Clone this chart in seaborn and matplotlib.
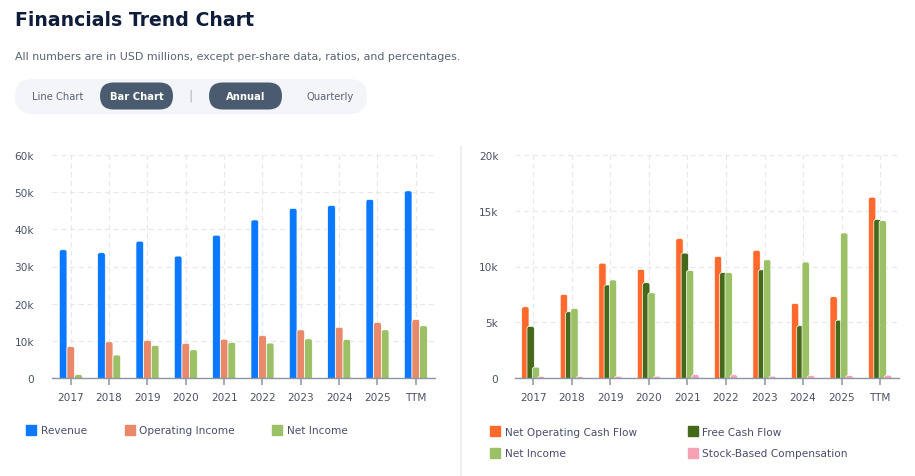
import numpy as np
import pandas as pd
import matplotlib
matplotlib.use("Agg")
import matplotlib.pyplot as plt
import seaborn as sns
from matplotlib.patches import FancyBboxPatch, Rectangle
from matplotlib.lines import Line2D
from matplotlib.ticker import FuncFormatter

# data (USD millions)
years = ["2017", "2018", "2019", "2020", "2021", "2022", "2023", "2024", "2025", "TTM"]
revenue = [34500, 33700, 36800, 32800, 38400, 42500, 45600, 46400, 48000, 50300]
operating_income = [8500, 9800, 10200, 9400, 10500, 11500, 13000, 13700, 15000, 15800]
net_income = [1000, 6250, 8800, 7650, 9650, 9450, 10600, 10400, 13000, 14100]
net_operating_cf = [6400, 7500, 10300, 9750, 12500, 10900, 11450, 6700, 7300, 16200]
free_cf = [4650, 5950, 8350, 8550, 11200, 9450, 9700, 4700, 5200, 14200]
sbc = [180, 180, 190, 190, 330, 320, 190, 250, 260, 280]

left_series = ["Revenue", "Operating Income", "Net Income"]
left_colors = ["#0a78ff", "#e8896a", "#9cc066"]
right_series = ["Net Operating Cash Flow", "Free Cash Flow", "Net Income", "Stock-Based Compensation"]
right_colors = ["#ff6a2c", "#44691a", "#9cc066", "#f7a1b4"]

left_df = pd.DataFrame({"year": years * 3,
                        "metric": np.repeat(left_series, len(years)),
                        "value": revenue + operating_income + net_income})
right_df = pd.DataFrame({"year": years * 4,
                         "metric": np.repeat(right_series, len(years)),
                         "value": net_operating_cf + free_cf + net_income + sbc})

sns.set_theme(style="white")
plt.rcParams["font.family"] = ["DejaVu Sans"]

W, H = 915, 477
fig = plt.figure(figsize=(W / 100, H / 100), dpi=100)
fig.patch.set_facecolor("white")

TICK_C = "#4a5266"
GRID_C = "#e6e8ec"


def px(x, y_top):
    # pixel position (from top-left) to figure fraction
    return x / W, 1 - y_top / H


def kfmt(v, _):
    return "0" if v == 0 else f"{int(v / 1000)}k"


def round_tops(ax, r_px=2.2, widen=1.0):
    fig.canvas.draw()
    p0 = ax.transData.transform((0, 0))
    p1 = ax.transData.transform((1, 1))
    xu = p1[0] - p0[0]
    yu = p1[1] - p0[1]
    aspect = xu / yu
    bars = [p for p in ax.patches if isinstance(p, Rectangle)]
    for p in bars:
        x, y, w, h = p.get_x(), p.get_y(), p.get_width(), p.get_height()
        if np.isnan(h):
            p.remove()
            continue
        cx = x + w / 2
        w2 = w * widen
        r = min(r_px / xu, w2 / 2)
        ext = 2 * r * aspect
        fb = FancyBboxPatch((cx - w2 / 2, y - ext), w2, h + ext,
                            boxstyle=f"round,pad=0,rounding_size={r}",
                            mutation_aspect=aspect,
                            facecolor=p.get_facecolor(), edgecolor="white",
                            linewidth=0.5, zorder=2)
        p.remove()
        ax.add_patch(fb)


def style_axis(ax, ymax, step, xlim):
    ax.set_ylim(0, ymax)
    ax.set_xlim(*xlim)
    ax.set_yticks(np.arange(0, ymax + 1, step))
    ax.yaxis.set_major_formatter(FuncFormatter(kfmt))
    ax.set_xlabel("")
    ax.set_ylabel("")
    for s in ["top", "right", "left"]:
        ax.spines[s].set_visible(False)
    ax.spines["bottom"].set_color("#8c95a3")
    ax.spines["bottom"].set_linewidth(1.0)
    ax.spines["bottom"].set_zorder(5)
    ax.grid(True, axis="both", color=GRID_C, linestyle=(0, (4, 3)), linewidth=0.9)
    ax.set_axisbelow(True)
    ax.tick_params(axis="x", length=5, width=1.1, color="#8c95a3", pad=5,
                   labelsize=7.6, labelcolor=TICK_C, bottom=True)
    ax.tick_params(axis="y", length=0, pad=13, labelsize=7.6, labelcolor=TICK_C)
    if ax.get_legend() is not None:
        ax.get_legend().remove()


# left chart
ax1 = fig.add_axes([52 / W, 1 - 379.3 / H, 383 / W, 223.6 / H])
sns.barplot(data=left_df, x="year", y="value", hue="metric", hue_order=left_series,
            palette=left_colors, width=0.6, dodge=True, saturation=1, errorbar=None, ax=ax1)
style_axis(ax1, 60000, 10000, (-0.49, 9.5))
round_tops(ax1)

# right chart
ax2 = fig.add_axes([515 / W, 1 - 379.3 / H, 384 / W, 223.6 / H])
sns.barplot(data=right_df, x="year", y="value", hue="metric", hue_order=right_series,
            palette=right_colors, width=0.55, dodge=True, saturation=1, errorbar=None, ax=ax2)
style_axis(ax2, 20000, 5000, (-0.475, 9.49))
ax2.tick_params(axis="y", pad=12)
round_tops(ax2, widen=1.38)


# legends
def legend_handles(names, colors):
    return [Line2D([0], [0], marker="s", linestyle="", markersize=7.5,
                   markerfacecolor=c, markeredgecolor=c, label=n)
            for n, c in zip(names, colors)]


LEG_C = "#4a4d6b"
leg1 = fig.legend(handles=legend_handles(left_series, left_colors), ncol=3,
                  loc="center left", bbox_to_anchor=px(27, 431.5), frameon=False,
                  fontsize=7.6, handlelength=0.8, handletextpad=0.5, columnspacing=3.65,
                  borderaxespad=0, borderpad=0)
for t in leg1.get_texts():
    t.set_color(LEG_C)

leg2 = fig.legend(handles=legend_handles(["Net Operating Cash Flow", "Net Income",
                                          "Free Cash Flow", "Stock-Based Compensation"],
                                         [right_colors[0], right_colors[2],
                                          right_colors[1], right_colors[3]]),
                  ncol=2, loc="center left", bbox_to_anchor=px(491, 443.5), frameon=False,
                  fontsize=7.6, handlelength=0.8, handletextpad=0.5, columnspacing=4.9,
                  labelspacing=1.1, borderaxespad=0, borderpad=0)
for t in leg2.get_texts():
    t.set_color(LEG_C)

# divider between panels
fig.add_artist(Line2D([460.7 / W, 460.7 / W], [0, 1 - 147 / H], color="#eeeeee",
                      linewidth=1.2, transform=fig.transFigure))

# header
fig.text(*px(15, 20), "Financials Trend Chart", fontsize=13.6, fontweight="bold",
         color="#0f1d3a", va="center", ha="left")
fig.text(*px(15, 56.5), "All numbers are in USD millions, except per-share data, ratios, and percentages.",
         fontsize=7.9, color="#5b6175", va="center", ha="left")


def pill(x0, y0, x1, y1, color):
    hgt = y1 - y0
    fig.patches.append(FancyBboxPatch((x0, H - y1), x1 - x0, hgt,
                                      boxstyle=f"round,pad=0,rounding_size={hgt / 2}",
                                      facecolor=color, edgecolor="none", transform=None,
                                      figure=fig))


pill(15, 80, 367, 115, "#f3f5f9")
pill(100, 83.5, 173, 110.5, "#4a5a6f")
pill(209, 83.5, 282, 110.5, "#4a5a6f")
fig.text(*px(57.5, 97), "Line Chart", fontsize=7.2, color="#5b6175", ha="center", va="center")
fig.text(*px(136.5, 97.5), "Bar Chart", fontsize=7.2, color="white", fontweight="bold",
         ha="center", va="center")
fig.text(*px(190.5, 96.5), "|", fontsize=9, color="#a9b0bc", ha="center", va="center")
fig.text(*px(245.5, 97.5), "Annual", fontsize=7.2, color="white", fontweight="bold",
         ha="center", va="center")
fig.text(*px(330, 97), "Quarterly", fontsize=7.2, color="#5b6175", ha="center", va="center")

fig.savefig("out.png", dpi=100, facecolor="white")
